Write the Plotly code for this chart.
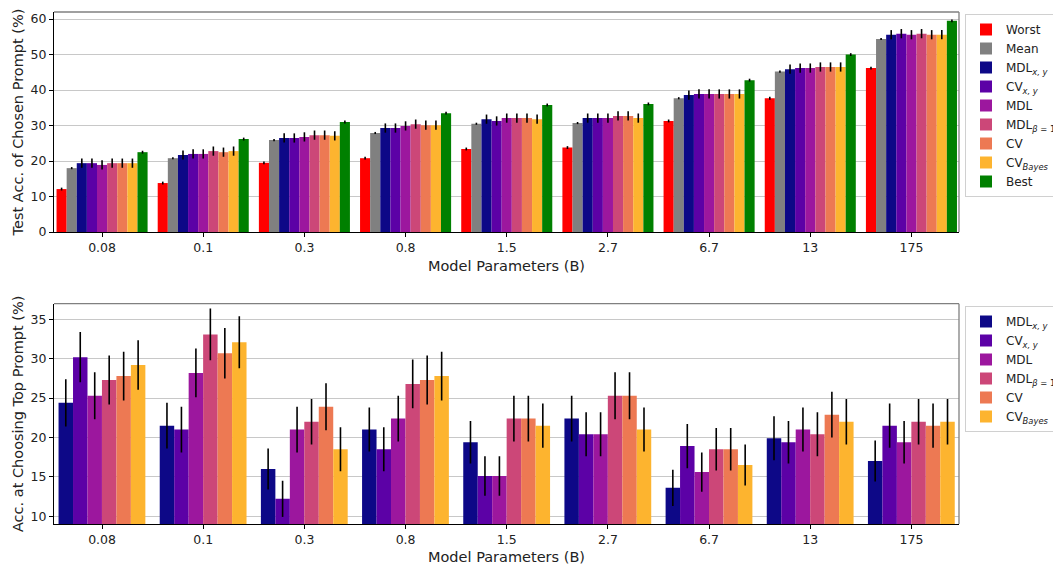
import plotly.graph_objects as go

categories = ["0.08", "0.1", "0.3", "0.8", "1.5", "2.7", "6.7", "13", "175"]

# Top panel: test accuracy of chosen prompt (%)
top_names = ["Worst", "Mean", "MDL<sub><i>x, y</i></sub>", "CV<sub><i>x, y</i></sub>", "MDL",
             "MDL<sub><i>β</i> = 1</sub>", "CV", "CV<sub><i>Bayes</i></sub>", "Best"]
top_colors = ["#ff0000", "#808080", "#0d0887", "#5c01a6", "#9c179e", "#cc4778", "#ed7953", "#fdb42f", "#008000"]
worst = [12.1, 13.8, 19.5, 20.8, 23.4, 23.8, 31.3, 37.7, 46.2]
mean = [18.0, 20.8, 25.9, 27.9, 30.5, 30.7, 37.7, 45.2, 54.4]
mdl_xy = [19.4, 21.7, 26.5, 29.3, 31.8, 32.1, 38.6, 45.9, 55.6]
cv_xy = [19.4, 22.0, 26.5, 29.3, 31.3, 32.1, 38.9, 46.2, 55.9]
mdl = [18.9, 22.0, 26.8, 29.9, 32.1, 32.1, 38.9, 46.2, 55.6]
mdl_b1 = [19.4, 22.8, 27.3, 30.4, 32.1, 32.7, 38.9, 46.5, 55.9]
cv = [19.4, 22.5, 27.3, 30.1, 32.1, 32.7, 38.9, 46.5, 55.6]
cv_bayes = [19.4, 22.8, 27.1, 30.1, 31.8, 32.1, 38.9, 46.5, 55.6]
best = [22.5, 26.2, 31.0, 33.5, 35.8, 36.1, 42.8, 50.0, 59.5]
top_err = [0.4, 0.3, 1.3, 1.3, 1.3, 1.3, 1.3, 1.3, 0.4]
top_values = [worst, mean, mdl_xy, cv_xy, mdl, mdl_b1, cv, cv_bayes, best]

# Bottom panel: accuracy at choosing top prompt (%)
bot_names = top_names[2:8]
bot_colors = top_colors[2:8]
b_mdl_xy = [24.4, 21.5, 16.0, 21.0, 19.4, 22.4, 13.6, 19.9, 17.0]
b_cv_xy = [30.2, 21.0, 12.2, 18.5, 15.1, 20.4, 18.9, 19.4, 21.5]
b_mdl = [25.3, 28.2, 21.0, 22.4, 15.1, 20.4, 15.6, 21.0, 19.4]
b_mdl_b1 = [27.3, 33.1, 22.0, 26.8, 22.4, 25.3, 18.5, 20.4, 22.0]
b_cv = [27.8, 30.7, 23.9, 27.3, 22.4, 25.3, 18.5, 22.9, 21.5]
b_cv_bayes = [29.2, 32.1, 18.5, 27.8, 21.5, 21.0, 16.5, 22.0, 22.0]
b_err_mdl_xy = [3.0, 2.9, 2.6, 2.8, 2.7, 2.9, 2.3, 2.8, 2.6]
b_err_cv_xy = [3.2, 2.9, 2.3, 2.8, 2.5, 2.8, 2.8, 2.7, 2.8]
b_err_mdl = [3.0, 3.1, 2.9, 2.9, 2.5, 2.8, 2.5, 2.8, 2.7]
b_err_mdl_b1 = [3.1, 3.3, 2.9, 3.1, 2.9, 3.0, 2.7, 2.8, 2.9]
b_err_cv = [3.1, 3.2, 3.0, 3.1, 2.9, 3.0, 2.7, 2.9, 2.8]
b_err_cv_bayes = [3.15, 3.3, 2.8, 3.1, 2.8, 2.8, 2.6, 2.9, 2.9]
bot_values = [b_mdl_xy, b_cv_xy, b_mdl, b_mdl_b1, b_cv, b_cv_bayes]
bot_errs = [b_err_mdl_xy, b_err_cv_xy, b_err_mdl, b_err_mdl_b1, b_err_cv, b_err_cv_bayes]

FONT = "DejaVu Sans"
fig = go.Figure()

tw = 0.1
for i, (name, vals) in enumerate(zip(top_names, top_values)):
    fig.add_trace(go.Bar(
        x=categories, y=vals, name=name, marker=dict(color=top_colors[i], line=dict(width=0)),
        width=tw, offset=-0.45 + i * tw,
        error_y=dict(type="constant", value=top_err[i], color="black", thickness=1.6, width=0),
        xaxis="x", yaxis="y", legend="legend",
    ))

bw = 0.143
for i, (name, vals) in enumerate(zip(bot_names, bot_values)):
    fig.add_trace(go.Bar(
        x=categories, y=vals, name=name, marker=dict(color=bot_colors[i], line=dict(width=0)),
        width=bw, offset=-0.43 + i * bw,
        error_y=dict(type="data", array=bot_errs[i], color="black", thickness=1.6, width=0),
        xaxis="x2", yaxis="y2", legend="legend2",
    ))

xrange = [-0.475, 8.47]
axis_common = dict(showline=True, linecolor="black", linewidth=1, ticks="outside", ticklen=4,
                   tickcolor="black", tickfont=dict(family=FONT, size=12.5, color="#222"),
                   automargin=False)

fig.update_layout(
    width=1053, height=565,
    margin=dict(l=54, r=94, t=12, b=41, autoexpand=False),
    paper_bgcolor="white", plot_bgcolor="white",
    barmode="overlay",
    font=dict(family=FONT, color="#222"),
    xaxis=dict(**axis_common, type="category", range=xrange, anchor="y", domain=[0, 1],
               title=dict(text="Model Parameters (B)", font=dict(family=FONT, size=14.5), standoff=6),
               showgrid=False),
    yaxis=dict(**axis_common, range=[0, 62], domain=[0.5703, 1], anchor="x",
               tickvals=[0, 10, 20, 30, 40, 50, 60],
               showgrid=True, gridcolor="#c8c8c8", gridwidth=1.3,
               title=dict(text="Test Acc. of Chosen Prompt (%)", font=dict(family=FONT, size=14.5), standoff=3)),
    xaxis2=dict(**axis_common, type="category", range=xrange, anchor="y2", domain=[0, 1],
                title=dict(text="Model Parameters (B)", font=dict(family=FONT, size=14.5), standoff=6),
                showgrid=False),
    yaxis2=dict(**axis_common, range=[9, 37], domain=[0, 0.4303], anchor="x2",
                tickvals=[10, 15, 20, 25, 30, 35],
                showgrid=True, gridcolor="#c8c8c8", gridwidth=1.3,
                title=dict(text="Acc. at Choosing Top Prompt (%)", font=dict(family=FONT, size=14.5), standoff=3)),
    legend=dict(x=965 / 1053, xanchor="left", y=1 - 14 / 565, yanchor="top",
                xref="container", yref="container",
                bordercolor="#d0d0d0", borderwidth=1, bgcolor="white",
                font=dict(family=FONT, size=12, color="#222"), tracegroupgap=0,
                itemwidth=30),
    legend2=dict(x=965 / 1053, xanchor="left", y=1 - 306 / 565, yanchor="top",
                 xref="container", yref="container",
                 bordercolor="#d0d0d0", borderwidth=1, bgcolor="white",
                 font=dict(family=FONT, size=12, color="#222"), tracegroupgap=0,
                 itemwidth=30),
)

# top and right frame in grey
for xr, yr in [("x domain", "y domain"), ("x2 domain", "y2 domain")]:
    fig.add_shape(type="line", xref=xr, yref=yr, x0=0, x1=1, y0=1, y1=1,
                  line=dict(color="#808080", width=1.3))
    fig.add_shape(type="line", xref=xr, yref=yr, x0=1, x1=1, y0=0, y1=1,
                  line=dict(color="#808080", width=1.3))

fig.write_html("out.html", config={"displayModeBar": False},
               post_script="document.body.style.margin='0';")
